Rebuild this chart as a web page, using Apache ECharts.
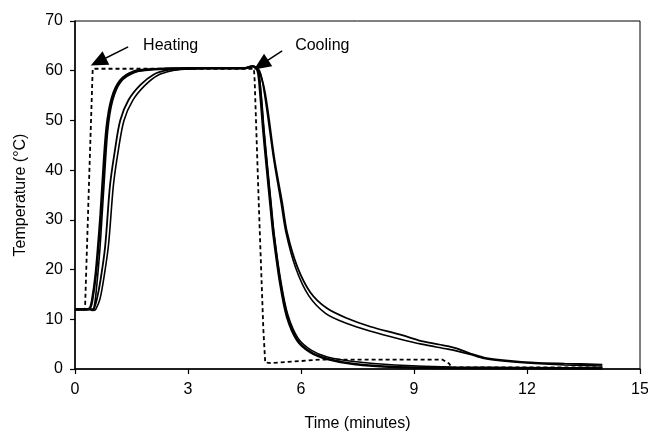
<!DOCTYPE html>
<html><head><meta charset="utf-8">
<script src="https://cdn.jsdelivr.net/npm/echarts@6/dist/echarts.min.js"></script>
<style>html,body{margin:0;padding:0;background:#fff}#c{width:648px;height:435px}</style>
</head><body><div id="c"></div>
<script>
// X ticks / y ticks
const xTicks = [0, 3, 6, 9, 12, 15];
const yTicks = [0, 10, 20, 30, 40, 50, 60, 70];

// Dashed reference (block) temperature
const refTime = [0, 0.25, 0.27, 0.37, 0.47, 4.75, 4.77, 4.88, 5.0, 5.05, 5.2, 6.0, 6.5, 9.75, 9.93, 10.0, 14.0];
const refTemp = [12, 12, 13, 37, 60.4, 60.4, 58, 33, 8, 1.3, 1.2, 1.6, 1.9, 1.9, 1.1, 0.3, 0.3];

// Fast curve 1 (thick)
const fast1Time = [0, 0.3, 0.4, 0.46, 0.55, 0.62, 0.68, 0.73, 0.84, 0.98, 1.2, 1.55, 2.1, 3, 4.5, 4.72, 4.85, 4.92, 5.0, 5.1, 5.19, 5.27, 5.45, 5.63, 5.9, 6.25, 6.7, 7.4, 8.5, 10, 14];
const fast1Temp = [12, 12, 12.3, 14, 19, 25, 31, 37, 48.5, 54.5, 58, 59.8, 60.3, 60.5, 60.5, 60.9, 60, 55.5, 48, 40, 33, 27, 17.2, 10.5, 5.8, 3.4, 2.0, 1.0, 0.4, 0.2, 0.1];

// Fast curve 2 (thin)
const fast2Time = [0, 0.4, 0.5, 0.58, 0.66, 0.72, 0.77, 0.87, 1.0, 1.22, 1.6, 2.1, 3, 4.5, 4.72, 4.86, 4.94, 5.02, 5.12, 5.21, 5.29, 5.47, 5.65, 5.92, 6.27, 6.7, 7.4, 8.5, 10, 14];
const fast2Temp = [12, 12, 12.3, 17, 24, 31, 37, 48, 54, 57.8, 59.7, 60.3, 60.5, 60.5, 60.9, 60, 55.5, 48, 40, 33, 27, 17.4, 10.9, 6.2, 3.8, 2.4, 1.5, 0.8, 0.4, 0.2];

// Slow curve 1
const slow1Time = [0, 0.4, 0.45, 0.5, 0.58, 0.68, 0.8, 0.93, 1.06, 1.2, 1.42, 1.73, 2.08, 2.44, 2.8, 3.5, 4.5, 4.72, 4.88, 5.05, 5.3, 5.5, 5.63, 5.9, 6.25, 6.69, 7.22, 7.85, 8.64, 9.2, 9.9, 10.15, 10.5, 10.86, 11.5, 12.2, 13, 14];
const slow1Temp = [12, 12, 11.8, 12, 14, 18, 24.6, 37, 44, 50, 54.1, 57.1, 59.2, 60.1, 60.3, 60.5, 60.5, 60.9, 60, 55.4, 42, 33.5, 27.5, 20.6, 15.4, 12.2, 10.2, 8.5, 6.9, 5.6, 4.6, 4.1, 3.1, 2.3, 1.7, 1.3, 1.1, 0.9];

// Slow curve 2
const slow2Time = [0, 0.45, 0.5, 0.55, 0.66, 0.77, 0.89, 1.02, 1.15, 1.3, 1.53, 1.85, 2.2, 2.58, 2.95, 3.5, 4.5, 4.72, 4.9, 5.03, 5.28, 5.47, 5.6, 5.86, 6.2, 6.65, 7.2, 7.85, 8.64, 9.2, 9.9, 10.15, 10.5, 10.86, 11.5, 12.2, 13, 14];
const slow2Temp = [12, 12, 11.8, 12, 14, 18.5, 25, 37, 44, 50, 54, 57, 59.1, 60, 60.3, 60.5, 60.5, 60.9, 60, 55.4, 42, 33.5, 27.5, 20.3, 14.8, 11.2, 9.2, 7.6, 6.0, 5.0, 4.0, 3.6, 2.9, 2.1, 1.5, 1.1, 0.8, 0.6];

// Annotations: arrows [tailT, tailY, tipT, tipY]
const heatArrow = [1.41, 64.8, 0.62, 61.8];
const coolArrow = [5.5, 64.0, 4.94, 61.2];
const annotationText = ["Heating", "Cooling"];

const zip = (a, b) => a.map((v, i) => [v, b[i]]);
const FONT = 'Liberation Sans, Arial, sans-serif';

const chart = echarts.init(document.getElementById('c'), null, {renderer: 'canvas'});
const lineBase = {type: 'line', symbol: 'none', smooth: 0.3, animation: false, z: 3};

chart.setOption({
  backgroundColor: '#fff',
  animation: false,
  grid: {left: 75, right: 8, top: 21, bottom: 66, containLabel: false, outerBoundsMode: 'none',
         show: true, borderColor: '#000', borderWidth: 1},
  xAxis: {
    type: 'value', min: 0, max: 15, interval: 3,
    name: 'Time (minutes)', nameLocation: 'middle', nameGap: 47,
    nameTextStyle: {fontFamily: FONT, fontSize: 16, color: '#000'},
    axisLine: {lineStyle: {color: '#000', width: 1.5}},
    axisTick: {show: true, length: 5, lineStyle: {color: '#000', width: 1.2}},
    axisLabel: {fontFamily: FONT, fontSize: 16, color: '#000', margin: 13,
      formatter: v => xTicks.includes(v) ? String(v) : ''},
    splitLine: {show: false}
  },
  yAxis: {
    type: 'value', min: 0, max: 70, interval: 10,
    name: 'Temperature (°C)', nameLocation: 'middle', nameGap: 46,
    nameTextStyle: {fontFamily: FONT, fontSize: 16, color: '#000'},
    axisLine: {show: true, lineStyle: {color: '#000', width: 1.5}},
    axisTick: {show: true, length: 5, lineStyle: {color: '#000', width: 1.2}},
    axisLabel: {fontFamily: FONT, fontSize: 16, color: '#000', margin: 12,
      formatter: v => yTicks.includes(v) ? String(v) : ''},
    splitLine: {show: false}
  },
  series: [
    Object.assign({}, lineBase, {name: 'slow1', data: zip(slow1Time, slow1Temp), lineStyle: {color: '#000', width: 1.8}}),
    Object.assign({}, lineBase, {name: 'slow2', data: zip(slow2Time, slow2Temp), lineStyle: {color: '#000', width: 1.6}}),
    Object.assign({}, lineBase, {name: 'fast2', data: zip(fast2Time, fast2Temp), lineStyle: {color: '#000', width: 1.6}}),
    Object.assign({}, lineBase, {name: 'fast1', data: zip(fast1Time, fast1Temp), lineStyle: {color: '#000', width: 2.6}}),
    {type: 'line', name: 'ref', symbol: 'none', smooth: false, animation: false, z: 4,
     data: zip(refTime, refTemp), lineStyle: {color: '#000', width: 1.8, type: [4, 3]},
     markLine: {silent: true, animation: false, symbol: ['none', 'triangle'], symbolSize: [15, 17],
       lineStyle: {color: '#000', width: 1.5, type: 'solid'}, label: {show: false},
       data: [
         [{coord: [heatArrow[0], heatArrow[1]]}, {coord: [heatArrow[2], heatArrow[3]]}],
         [{coord: [coolArrow[0], coolArrow[1]]}, {coord: [coolArrow[2], coolArrow[3]]}]
       ]}}
  ]
});

const hp = chart.convertToPixel('grid', [heatArrow[0], heatArrow[1]]);
const cp = chart.convertToPixel('grid', [coolArrow[0], coolArrow[1]]);
chart.setOption({
  graphic: [
    {type: 'text', left: hp[0] + 15, top: 38, style: {text: annotationText[0], font: '16px ' + FONT, fill: '#000'}},
    {type: 'text', left: cp[0] + 13, top: 38, style: {text: annotationText[1], font: '16px ' + FONT, fill: '#000'}}
  ]
});
</script>
</body></html>
